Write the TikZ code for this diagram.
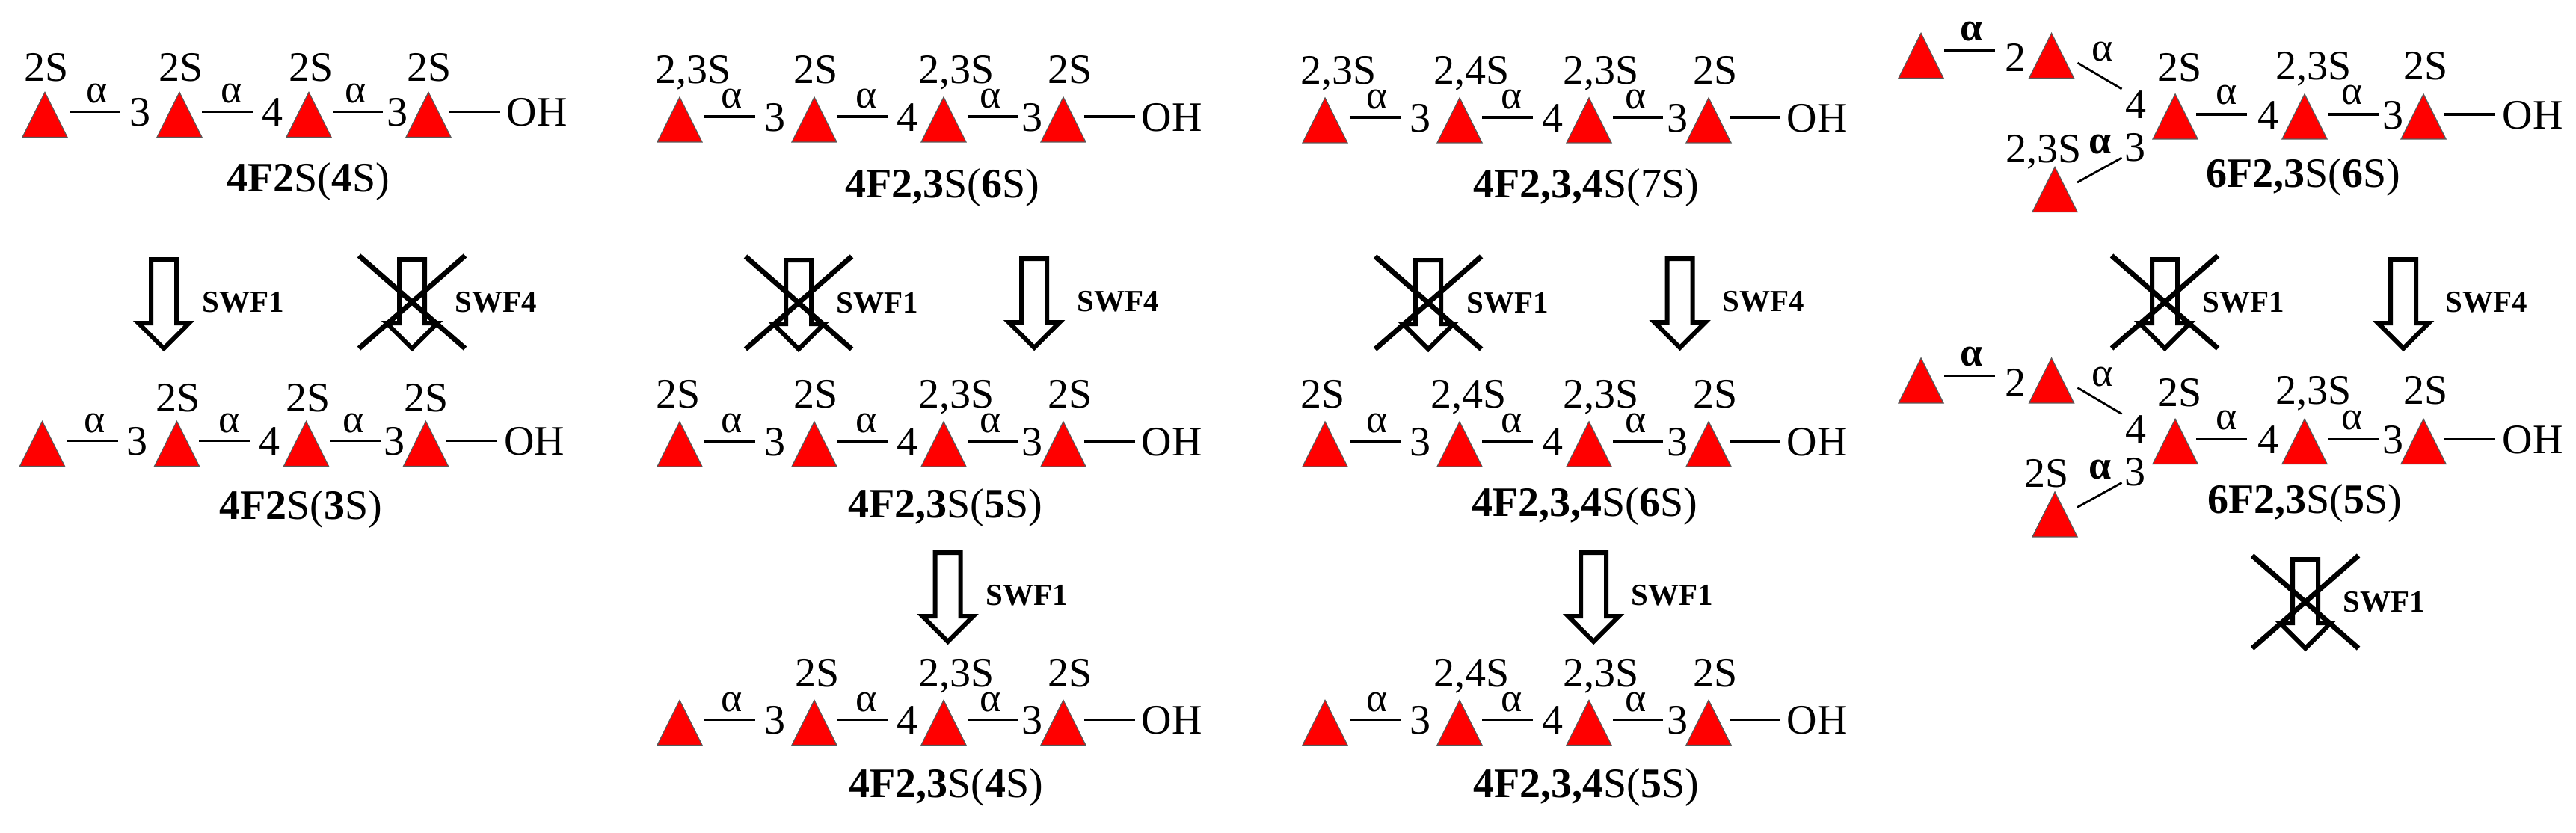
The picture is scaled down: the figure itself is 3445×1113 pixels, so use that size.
\documentclass[tikz,border=0pt]{standalone}
\usepackage{fontspec}
\setmainfont{Liberation Serif}
\usetikzlibrary{shapes.geometric,shapes.arrows,calc}
\tikzset{
  x=0.5pt,y=-0.5pt,
  tri/.style={isosceles triangle,isosceles triangle stretches,shape border rotate=90,
     minimum width=30pt,minimum height=30pt,inner sep=0pt,fill=red,draw=black!65,line width=.6pt,anchor=lower side},
  bond/.style={line width=1.7pt,black},
  lab/.style={inner sep=0pt,anchor=base,font=\fontsize{28}{28}\selectfont},
  alph/.style={inner sep=0pt,anchor=base,font=\fontsize{27}{27}\selectfont},
  num/.style={inner sep=0pt,text height=19pt,text depth=0pt,align=center,font=\fontsize{28}{28}\selectfont},
  ttl/.style={inner sep=0pt,anchor=base,font=\fontsize{28}{28}\selectfont},
  swf/.style={inner sep=0pt,anchor=base,font=\fontsize{20.5}{20.5}\selectfont\bfseries},
  bigarrow/.style={single arrow,draw=black,fill=white,line width=3pt,miter limit=10,rotate=-90,anchor=tail,inner xsep=0pt,inner ysep=7pt,
     minimum height=59.5pt,single arrow head extend=8.5pt,single arrow tip angle=90},
  crossline/.style={line width=3.4pt,black},
}
\newcommand{\chain}[3]{% prefix, dx, base
  \node[tri] (#1t1) at ({60+#2},#3) {};
  \node[tri] (#1t2) at ({240+#2},#3) {};
  \node[tri] (#1t3) at ({413+#2},#3) {};
  \node[tri] (#1t4) at ({573+#2},#3) {};
  \node[num,minimum width=25.5pt] (#1n1) at ({187+#2},{#3-34.5}) {3};
  \node[num,minimum width=25.5pt] (#1n2) at ({364+#2},{#3-34.5}) {4};
  \node[num,minimum width=18.5pt] (#1n3) at ({531+#2},{#3-34.5}) {3};
  \node[num,minimum width=49pt] (#1oh) at ({718+#2},{#3-34.5}) {OH};
  \draw[bond] ([xshift=1pt]#1t1.right corner |- #1n1.west) -- (#1n1.west);
  \draw[bond] ([xshift=-.5pt]#1t2.right corner |- #1n2.west) -- (#1n2.west);
  \draw[bond] ([xshift=.5pt]#1t3.right corner |- #1n3.west) -- (#1n3.west);
  \draw[bond] ([xshift=-1.5pt]#1t4.right corner |- #1oh.west) -- (#1oh.west);
  \node[alph] (#1a1) at ({130+#2},{#3-46}) {α};
  \node[alph] (#1a2) at ({310+#2},{#3-46}) {α};
  \node[alph] (#1a3) at ({476+#2},{#3-46}) {α};
}
\newcommand{\slab}[4]{% triangle node, text, x offset, height above base
  \node[lab] (#1lab) at ([shift={(#3,-#4)}]#1.lower side) {#2};
}
\newcommand{\ttlnode}[4]{% name, x, baseline, text
  \node[ttl] (#1) at (#2,#3) {#4};
}
\newcommand{\revarrow}[5]{% name, x, top, label x, label
  \node[bigarrow] (#1) at (#2,{#3+3}) {};
  \node[swf] (#1l) at (#4,{#3+76}) {#5};
}
\newcommand{\crossed}[1]{%
  \draw[crossline] ([shift={(-71,-2)}]#1.tail) -- ([shift={(71,122)}]#1.tail);
  \draw[crossline] ([shift={(71,-2)}]#1.tail) -- ([shift={(-71,122)}]#1.tail);
}
\newcommand{\branch}[4]{% prefix, dy, label of lower triangle, its x
  \node[tri] (#1A) at (2569,{105+#2}) {};
  \node[tri] (#1B) at (2743.5,{105+#2}) {};
  \node[tri] (#1C) at (2748,{284+#2}) {};
  \node[num,minimum width=28pt] (#1n2) at (2695,{68+9+#2}) {2};
  \node[lab] (#1n4) at (2856,{158+#2}) {4};
  \node[lab] (#1n3) at (2855,{215+#2}) {3};
  \draw[bond] ([yshift=18.5pt]#1A.right corner) -- ([shift={(-27.5,-9)}]#1n2.center);
  \draw[bond,line width=1.4pt] ([shift={(4,-21)}]#1B.right corner) -- ([shift={(-18.5,-39)}]#1n4.base);
  \draw[bond,line width=1.4pt] ([shift={(-1,-40)}]#1C.right corner) -- ([shift={(-17.5,-4)}]#1n3.base);
  \node[alph,font=\fontsize{27}{27}\selectfont\bfseries] (#1a1) at (2637,{54.5+#2}) {α};
  \node[alph] (#1a2) at (2812,{82+#2}) {α};
  \node[alph,font=\fontsize{27}{27}\selectfont\bfseries] (#1a3) at (2809,{205.5+#2}) {α};
  \node[lab] (#1Clab) at (#4,{217+#2}) {#3};
  \node[tri] (#1t2) at (2909,{186.5+#2}) {};
  \node[tri] (#1t3) at (3082,{186.5+#2}) {};
  \node[tri] (#1t4) at (3241,{186.5+#2}) {};
  \node[num,minimum width=28pt] (#1m1) at (3033,{153+#2}) {4};
  \node[num,minimum width=19pt] (#1m2) at (3200,{153+#2}) {3};
  \node[num,minimum width=50pt] (#1oh) at (3387,{153+#2}) {OH};
  \draw[bond] ([xshift=-1.5pt]#1t2.right corner |- #1m1.west) -- (#1m1.west);
  \draw[bond] ([xshift=.5pt]#1t3.right corner |- #1m2.west) -- (#1m2.west);
  \draw[bond] ([xshift=-2pt]#1t4.right corner |- #1oh.west) -- (#1oh.west);
  \node[alph] (#1a4) at (2978,{139.5+#2}) {α};
  \node[alph] (#1a5) at (3146,{139.5+#2}) {α};
  \node[lab] (#1l2) at (2915,{109+#2}) {2S};
  \node[lab] (#1l3) at (3094,{106+#2}) {2,3S};
  \node[lab] (#1l4) at (3244,{106+#2}) {2S};
}
\begin{document}
\begin{tikzpicture}
\useasboundingbox (0,0) rectangle (3445,1113);
% column 1
\chain{aa}{0}{184}
\slab{aat1}{2S}{2}{75}\slab{aat2}{2S}{2}{75}\slab{aat3}{2S}{3}{75}\slab{aat4}{2S}{1}{75}
\ttlnode{aat}{412}{256}{\textbf{4F2}S(\textbf{4}S)}
\chain{ab}{-3.5}{624}
\slab{abt2}{2S}{2}{74}\slab{abt3}{2S}{3}{74}\slab{abt4}{2S}{1}{74}
\ttlnode{abt}{402}{694}{\textbf{4F2}S(\textbf{3}S)}
\revarrow{ar1}{219}{341}{325}{SWF1}
\revarrow{ar2}{551}{341}{663}{SWF4}\crossed{ar2}
% column 2
\chain{ba}{849}{190.5}
\slab{bat1}{2,3S}{18}{79}\slab{bat2}{2S}{2}{79}\slab{bat3}{2,3S}{17}{79}\slab{bat4}{2S}{9}{79}
\ttlnode{bat}{1260}{264}{\textbf{4F2,3}S(\textbf{6}S)}
\chain{bb}{849}{624.5}
\slab{bbt1}{2S}{-2}{79}\slab{bbt2}{2S}{2}{79}\slab{bbt3}{2,3S}{17}{79}\slab{bbt4}{2S}{9}{79}
\ttlnode{bbt}{1264}{692}{\textbf{4F2,3}S(\textbf{5}S)}
\chain{bc}{849}{997}
\slab{bct2}{2S}{4}{79}\slab{bct3}{2,3S}{17}{79}\slab{bct4}{2S}{9}{79}
\ttlnode{bct}{1265.5}{1066}{\textbf{4F2,3}S(\textbf{4}S)}
\revarrow{br1}{1068}{342}{1173}{SWF1}\crossed{br1}
\revarrow{br2}{1383}{340}{1495}{SWF4}
\revarrow{br3}{1267.5}{733}{1373}{SWF1}
% column 3
\chain{ca}{1712}{191.5}
\slab{cat1}{2,3S}{18}{79}\slab{cat2}{2,4S}{16}{79}\slab{cat3}{2,3S}{16}{79}\slab{cat4}{2S}{9}{79}
\ttlnode{cat}{2121}{264}{\textbf{4F2,3,4}S(7S)}
\chain{cb}{1712}{624.5}
\slab{cbt1}{2S}{-2.5}{79}\slab{cbt2}{2,4S}{12}{79}\slab{cbt3}{2,3S}{16}{79}\slab{cbt4}{2S}{9}{79}
\ttlnode{cbt}{2119}{690}{\textbf{4F2,3,4}S(\textbf{6}S)}
\chain{cc}{1712}{997}
\slab{cct2}{2,4S}{16}{79}\slab{cct3}{2,3S}{16}{79}\slab{cct4}{2S}{9}{79}
\ttlnode{cct}{2121}{1066}{\textbf{4F2,3,4}S(\textbf{5}S)}
\revarrow{cr1}{1910}{342}{2016}{SWF1}\crossed{cr1}
\revarrow{cr2}{2246.5}{340}{2358}{SWF4}
\revarrow{cr3}{2131}{733}{2236}{SWF1}
% column 4
\branch{da}{0}{2,3S}{2733}
\ttlnode{dat}{3080.5}{250}{\textbf{6F2,3}S(\textbf{6}S)}
\branch{db}{434.5}{2S}{2737}
\ttlnode{dbt}{3082}{686}{\textbf{6F2,3}S(\textbf{5}S)}
\revarrow{dr1}{2895}{341}{3000}{SWF1}\crossed{dr1}
\revarrow{dr2}{3214}{341}{3325}{SWF4}
\revarrow{dr3}{3083}{742}{3188}{SWF1}\crossed{dr3}
\end{tikzpicture}
\end{document}
